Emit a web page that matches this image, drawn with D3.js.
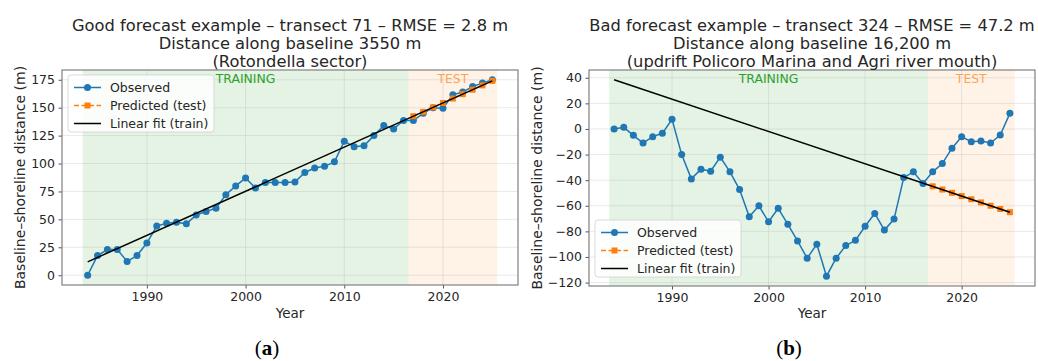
<!DOCTYPE html>
<html>
<head>
<meta charset="utf-8">
<script src="https://cdn.jsdelivr.net/npm/d3@7"></script>
<style>
  body { margin: 0; background: #fff; }
  svg { display: block; font-family: "DejaVu Sans", sans-serif; }
</style>
</head>
<body>
<div id="container"></div>
<script>
var WIDTH = 1038,
	HEIGHT = 361;

// shared x values
var years = [1984, 1985, 1986, 1987, 1988, 1989, 1990, 1991, 1992, 1993, 1994,
	1995, 1996, 1997, 1998, 1999, 2000, 2001, 2002, 2003, 2004, 2005, 2006,
	2007, 2008, 2009, 2010, 2011, 2012, 2013, 2014, 2015, 2016, 2017, 2018,
	2019, 2020, 2021, 2022, 2023, 2024, 2025];
var testYears = [2017, 2018, 2019, 2020, 2021, 2022, 2023, 2024, 2025];
var fitYears = [1984, 2025];
var trainSpan = [1983.5, 2016.5];
var testSpan = [2016.5, 2025.5];
var xTicks = [1990, 2000, 2010, 2020];

// (a) transect 71
var goodObserved = [0, 17.6, 23, 23, 12.4, 17.6, 28.8, 44, 46.5, 47.5, 46,
	54, 57, 60, 72, 80, 87, 78, 83, 83, 83, 83.5, 92,
	96, 97.5, 101.5, 120, 115, 116, 125, 134, 131, 138.5, 138.5, 145,
	150, 149.5, 161.5, 164, 169, 172, 175];
var goodPredicted = [142.4, 146.3, 150.3, 154.2, 158.2, 162.1, 166.1, 170, 174];
var goodFit = [12, 174];
var goodYTicks = [0, 25, 50, 75, 100, 125, 150, 175];

// (b) transect 324
var badObserved = [0, 1.3, -5, -11, -6, -3.4, 7.5, -20, -39, -31.4, -33,
	-22, -33.5, -47.3, -68.6, -60, -72.5, -62, -74.5, -87.5, -101, -90, -115,
	-101, -91, -87, -76, -66, -79, -70.4, -38, -33.5, -42.6, -33.5, -27,
	-15, -6, -10, -9.4, -11, -4.7, 12.2];
var badPredicted = [-44.8, -47.3, -49.9, -52.4, -54.9, -57.4, -60, -62.5, -65];
var badFit = [38.4, -65];
var badYTicks = [-120, -100, -80, -60, -40, -20, 0, 20, 40];

var panels = [
	{
		title: ["Good forecast example \u2013 transect 71 \u2013 RMSE = 2.8 m",
			"Distance along baseline 3550 m", "(Rotondella sector)"],
		observed: goodObserved, predicted: goodPredicted, fit: goodFit, yTicks: goodYTicks,
		letter: "a", left: 62, right: 518, top: 70, bottom: 285, ylabelX: 20,
		legend: { x: 68, y: 75 }
	},
	{
		title: ["Bad forecast example \u2013 transect 324 \u2013 RMSE = 47.2 m",
			"Distance along baseline 16,200 m", "(updrift Policoro Marina and Agri river mouth)"],
		observed: badObserved, predicted: badPredicted, fit: badFit, yTicks: badYTicks,
		letter: "b", left: 589, right: 1035, top: 70, bottom: 286, ylabelX: 537,
		legend: { x: 595, y: 220 }
	}
];

var BLUE = "#1f77b4", ORANGE = "#ff7f0e", GREEN = "#2ca02c";

var translate = function (x, y) {
	return "translate(" + x + "," + y + ")";
};

// matplotlib style 5% margins
function padded(lo, hi) {
	var m = (hi - lo) * 0.05;
	return [lo - m, hi + m];
}

function drawPanel(svg, p) {
	var xScale = d3.scaleLinear()
		.domain(padded(trainSpan[0], testSpan[1]))
		.range([p.left, p.right]);
	var all = p.observed.concat(p.predicted, p.fit);
	var yScale = d3.scaleLinear()
		.domain(padded(d3.min(all), d3.max(all)))
		.range([p.bottom, p.top]);

	var g = svg.append('g');
	var plotH = p.bottom - p.top;

	// shaded periods
	g.append('rect')
		.attr('x', xScale(trainSpan[0])).attr('y', p.top)
		.attr('width', xScale(trainSpan[1]) - xScale(trainSpan[0])).attr('height', plotH)
		.attr('fill', GREEN).attr('fill-opacity', 0.13);
	g.append('rect')
		.attr('x', xScale(testSpan[0])).attr('y', p.top)
		.attr('width', xScale(testSpan[1]) - xScale(testSpan[0])).attr('height', plotH)
		.attr('fill', ORANGE).attr('fill-opacity', 0.1);

	// grid
	g.append('g').selectAll('line').data(xTicks).enter().append('line')
		.attr('x1', function(d){return xScale(d)}).attr('x2', function(d){return xScale(d)})
		.attr('y1', p.top).attr('y2', p.bottom)
		.attr('stroke', '#b0b0b0').attr('stroke-opacity', 0.35).attr('stroke-width', 0.8);
	g.append('g').selectAll('line').data(p.yTicks).enter().append('line')
		.attr('y1', function(d){return yScale(d)}).attr('y2', function(d){return yScale(d)})
		.attr('x1', p.left).attr('x2', p.right)
		.attr('stroke', '#b0b0b0').attr('stroke-opacity', 0.35).attr('stroke-width', 0.8);

	// period labels
	g.append('text')
		.attr('x', xScale((trainSpan[0] + trainSpan[1]) / 2)).attr('y', p.top + 13)
		.attr('text-anchor', 'middle').attr('font-size', 12.4)
		.attr('fill', GREEN).text('TRAINING');
	g.append('text')
		.attr('x', xScale((testSpan[0] + testSpan[1]) / 2)).attr('y', p.top + 13)
		.attr('text-anchor', 'middle').attr('font-size', 12.4)
		.attr('fill', ORANGE).attr('fill-opacity', 0.7).text('TEST');

	// observed
	var obsLine = d3.line()
		.x(function(d, i){return xScale(years[i])})
		.y(function(d){return yScale(d)});
	g.append('path').attr('d', obsLine(p.observed))
		.attr('fill', 'none').attr('stroke', BLUE).attr('stroke-width', 1.5);
	g.append('g').selectAll('circle').data(p.observed).enter().append('circle')
		.attr('cx', function(d, i){return xScale(years[i])})
		.attr('cy', function(d){return yScale(d)})
		.attr('r', 3.5).attr('fill', BLUE);

	// predicted
	var predLine = d3.line()
		.x(function(d, i){return xScale(testYears[i])})
		.y(function(d){return yScale(d)});
	g.append('path').attr('d', predLine(p.predicted))
		.attr('fill', 'none').attr('stroke', ORANGE).attr('stroke-width', 1.5)
		.attr('stroke-dasharray', '5,2.5');
	g.append('g').selectAll('rect').data(p.predicted).enter().append('rect')
		.attr('x', function(d, i){return xScale(testYears[i]) - 3})
		.attr('y', function(d){return yScale(d) - 3})
		.attr('width', 6).attr('height', 6).attr('fill', ORANGE);

	// linear fit
	var fitLine = d3.line()
		.x(function(d, i){return xScale(fitYears[i])})
		.y(function(d){return yScale(d)});
	g.append('path').attr('d', fitLine(p.fit))
		.attr('fill', 'none').attr('stroke', '#000').attr('stroke-width', 1.5);

	// axes
	var xAxis = d3.axisBottom(xScale).tickValues(xTicks).tickFormat(d3.format('d'))
		.tickSizeInner(3.5).tickSizeOuter(0).tickPadding(3.5);
	var ax = g.append('g').attr('transform', translate(0, p.bottom)).call(xAxis);
	var yAxis = d3.axisLeft(yScale).tickValues(p.yTicks)
		.tickFormat(function(d){return d < 0 ? '\u2212' + Math.abs(d) : d})
		.tickSizeInner(3.5).tickSizeOuter(0).tickPadding(3.5);
	var ay = g.append('g').attr('transform', translate(p.left, 0)).call(yAxis);
	[ax, ay].forEach(function(a){
		a.select('.domain').remove();
		a.selectAll('.tick line').attr('stroke', '#555');
		a.selectAll('.tick text').attr('font-size', 12.5).attr('fill', '#262626')
			.attr('font-family', '"DejaVu Sans", sans-serif');
	});

	// frame
	g.append('rect').attr('x', p.left).attr('y', p.top)
		.attr('width', p.right - p.left).attr('height', plotH)
		.attr('fill', 'none').attr('stroke', '#808080').attr('stroke-width', 1.2);

	// legend
	var lg = g.append('g').attr('transform', translate(p.legend.x, p.legend.y));
	lg.append('rect').attr('width', 146).attr('height', 57).attr('rx', 3)
		.attr('fill', '#fff').attr('fill-opacity', 0.8)
		.attr('stroke', '#d0d0d0').attr('stroke-width', 0.8);
	var items = [
		{ label: 'Observed', color: BLUE, dash: null, marker: 'circle' },
		{ label: 'Predicted (test)', color: ORANGE, dash: '5,2.5', marker: 'square' },
		{ label: 'Linear fit (train)', color: '#000', dash: null, marker: null }
	];
	var rows = lg.selectAll('g.item').data(items).enter().append('g')
		.attr('transform', function(d, i){return translate(0, 12.5 + i * 18)});
	rows.append('line').attr('x1', 6).attr('x2', 33)
		.attr('stroke', function(d){return d.color}).attr('stroke-width', 1.5)
		.attr('stroke-dasharray', function(d){return d.dash});
	rows.filter(function(d){return d.marker === 'circle'}).append('circle')
		.attr('cx', 19.5).attr('r', 3.5).attr('fill', BLUE);
	rows.filter(function(d){return d.marker === 'square'}).append('rect')
		.attr('x', 16.5).attr('y', -3).attr('width', 6).attr('height', 6).attr('fill', ORANGE);
	rows.append('text').attr('x', 42).attr('dy', '0.35em')
		.attr('font-size', 12.5).attr('fill', '#262626')
		.text(function(d){return d.label});

	// titles and labels
	var cx = (p.left + p.right) / 2;
	g.append('text').attr('text-anchor', 'middle').attr('font-size', 16.3).attr('fill', '#262626')
		.selectAll('tspan').data(p.title).enter().append('tspan')
		.attr('x', cx).attr('y', function(d, i){return 30.5 + i * 18})
		.text(function(d){return d});
	g.append('text').attr('x', cx).attr('y', 318).attr('text-anchor', 'middle')
		.attr('font-size', 13.5).attr('fill', '#262626').text('Year');
	g.append('text')
		.attr('transform', translate(p.ylabelX, (p.top + p.bottom) / 2) + ' rotate(-90)')
		.attr('text-anchor', 'middle').attr('dy', '0.35em')
		.attr('font-size', 14).attr('fill', '#262626')
		.text('Baseline\u2013shoreline distance (m)');

	var cap = g.append('text').attr('x', cx - 23).attr('y', 355).attr('text-anchor', 'middle')
		.attr('font-family', '"Liberation Serif", serif').attr('font-size', 21).attr('fill', '#000');
	cap.append('tspan').text('(');
	cap.append('tspan').attr('font-weight', 'bold').text(p.letter);
	cap.append('tspan').text(')');
}

function visualize() {
	var svg = d3.select('#container')
		.append('svg')
		.attr('width', WIDTH)
		.attr('height', HEIGHT);
	panels.forEach(function(p){ drawPanel(svg, p) });
}

window.onload = visualize;
</script>
</body>
</html>
